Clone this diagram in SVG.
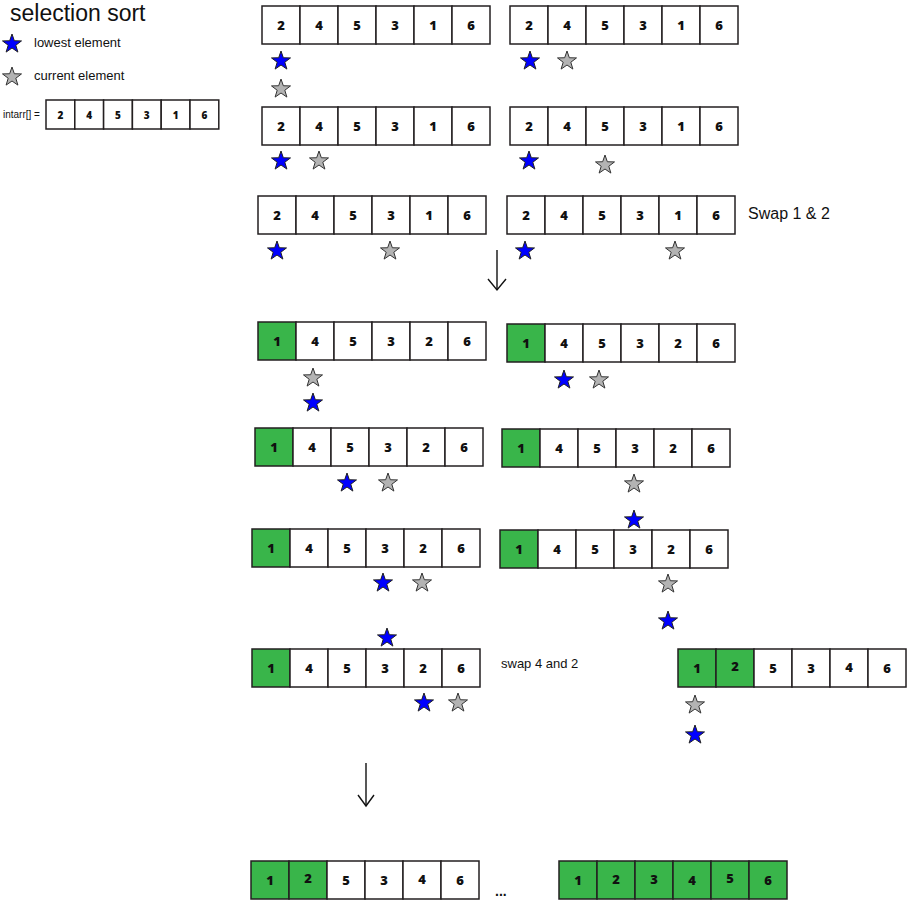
<svg xmlns="http://www.w3.org/2000/svg" width="907" height="902" viewBox="0 0 907 902">
<style>
.c{fill:#fff;stroke:#231f20;stroke-width:1.5}
.g{fill:#39b54a;stroke:#231f20;stroke-width:1.5}
.n{font-family:"Open Sans","Liberation Sans",sans-serif;font-weight:800;font-size:13px;text-anchor:middle;fill:#111}
.sn{font-family:"Open Sans","Liberation Sans",sans-serif;font-weight:800;font-size:10px;text-anchor:middle;fill:#111}
.lbl{font-family:"Liberation Sans",sans-serif;fill:#111}
.ar{fill:none;stroke:#111;stroke-width:1.4}
</style>
<defs>
<path id="star" d="M0,-10 L2.35,-3.24 L9.51,-3.09 L3.8,1.24 L5.88,8.09 L0,4 L-5.88,8.09 L-3.8,1.24 L-9.51,-3.09 L-2.35,-3.24 Z"/>
</defs>
<g id="legend">
<text class="lbl" x="10" y="21" font-size="23">selection sort</text>
<use href="#star" x="12" y="44" fill="#0000ff" stroke="#222" stroke-width="1"/>
<text class="lbl" x="34" y="47" font-size="13">lowest element</text>
<use href="#star" x="12" y="77" fill="#b3b3b3" stroke="#333" stroke-width="1"/>
<text class="lbl" x="34" y="80" font-size="13">current element</text>
<text class="lbl" x="3" y="118" font-size="10">intarr[] =</text>
<g transform="translate(46,100)">
<rect class="c" x="0" y="0" width="28.8" height="29"/><rect class="c" x="28.8" y="0" width="28.8" height="29"/><rect class="c" x="57.6" y="0" width="28.8" height="29"/><rect class="c" x="86.4" y="0" width="28.8" height="29"/><rect class="c" x="115.2" y="0" width="28.8" height="29"/><rect class="c" x="144" y="0" width="28.8" height="29"/>
<text class="sn" x="14.4" y="18.5">2</text><text class="sn" x="43.2" y="18.5">4</text><text class="sn" x="72" y="18.5">5</text><text class="sn" x="100.8" y="18.5">3</text><text class="sn" x="129.6" y="18.5">1</text><text class="sn" x="158.4" y="18.5">6</text>
</g>
</g>

<g id="r1a" transform="translate(262,6)">
<rect class="c" x="0" y="0" width="38" height="38"/><rect class="c" x="38" y="0" width="38" height="38"/><rect class="c" x="76" y="0" width="38" height="38"/><rect class="c" x="114" y="0" width="38" height="38"/><rect class="c" x="152" y="0" width="38" height="38"/><rect class="c" x="190" y="0" width="38" height="38"/>
<text class="n" x="19" y="24">2</text><text class="n" x="57" y="24">4</text><text class="n" x="95" y="24">5</text><text class="n" x="133" y="24">3</text><text class="n" x="171" y="24">1</text><text class="n" x="209" y="24">6</text>
</g>
<g id="r1b" transform="translate(510,6)">
<rect class="c" x="0" y="0" width="38" height="38"/><rect class="c" x="38" y="0" width="38" height="38"/><rect class="c" x="76" y="0" width="38" height="38"/><rect class="c" x="114" y="0" width="38" height="38"/><rect class="c" x="152" y="0" width="38" height="38"/><rect class="c" x="190" y="0" width="38" height="38"/>
<text class="n" x="19" y="24">2</text><text class="n" x="57" y="24">4</text><text class="n" x="95" y="24">5</text><text class="n" x="133" y="24">3</text><text class="n" x="171" y="24">1</text><text class="n" x="209" y="24">6</text>
</g>
<g id="r2a" transform="translate(262,107)">
<rect class="c" x="0" y="0" width="38" height="38"/><rect class="c" x="38" y="0" width="38" height="38"/><rect class="c" x="76" y="0" width="38" height="38"/><rect class="c" x="114" y="0" width="38" height="38"/><rect class="c" x="152" y="0" width="38" height="38"/><rect class="c" x="190" y="0" width="38" height="38"/>
<text class="n" x="19" y="24">2</text><text class="n" x="57" y="24">4</text><text class="n" x="95" y="24">5</text><text class="n" x="133" y="24">3</text><text class="n" x="171" y="24">1</text><text class="n" x="209" y="24">6</text>
</g>
<g id="r2b" transform="translate(510,107)">
<rect class="c" x="0" y="0" width="38" height="38"/><rect class="c" x="38" y="0" width="38" height="38"/><rect class="c" x="76" y="0" width="38" height="38"/><rect class="c" x="114" y="0" width="38" height="38"/><rect class="c" x="152" y="0" width="38" height="38"/><rect class="c" x="190" y="0" width="38" height="38"/>
<text class="n" x="19" y="24">2</text><text class="n" x="57" y="24">4</text><text class="n" x="95" y="24">5</text><text class="n" x="133" y="24">3</text><text class="n" x="171" y="24">1</text><text class="n" x="209" y="24">6</text>
</g>
<g id="r3a" transform="translate(258,196)">
<rect class="c" x="0" y="0" width="38" height="38"/><rect class="c" x="38" y="0" width="38" height="38"/><rect class="c" x="76" y="0" width="38" height="38"/><rect class="c" x="114" y="0" width="38" height="38"/><rect class="c" x="152" y="0" width="38" height="38"/><rect class="c" x="190" y="0" width="38" height="38"/>
<text class="n" x="19" y="24">2</text><text class="n" x="57" y="24">4</text><text class="n" x="95" y="24">5</text><text class="n" x="133" y="24">3</text><text class="n" x="171" y="24">1</text><text class="n" x="209" y="24">6</text>
</g>
<g id="r3b" transform="translate(507,196)">
<rect class="c" x="0" y="0" width="38" height="38"/><rect class="c" x="38" y="0" width="38" height="38"/><rect class="c" x="76" y="0" width="38" height="38"/><rect class="c" x="114" y="0" width="38" height="38"/><rect class="c" x="152" y="0" width="38" height="38"/><rect class="c" x="190" y="0" width="38" height="38"/>
<text class="n" x="19" y="24">2</text><text class="n" x="57" y="24">4</text><text class="n" x="95" y="24">5</text><text class="n" x="133" y="24">3</text><text class="n" x="171" y="24">1</text><text class="n" x="209" y="24">6</text>
</g>
<text class="lbl" x="748" y="219" font-size="16">Swap 1 &amp; 2</text>

<g id="r4a" transform="translate(258,322)">
<rect class="g" x="0" y="0" width="38" height="38"/><rect class="c" x="38" y="0" width="38" height="38"/><rect class="c" x="76" y="0" width="38" height="38"/><rect class="c" x="114" y="0" width="38" height="38"/><rect class="c" x="152" y="0" width="38" height="38"/><rect class="c" x="190" y="0" width="38" height="38"/>
<text class="n" x="19" y="24">1</text><text class="n" x="57" y="24">4</text><text class="n" x="95" y="24">5</text><text class="n" x="133" y="24">3</text><text class="n" x="171" y="24">2</text><text class="n" x="209" y="24">6</text>
</g>
<g id="r4b" transform="translate(507,324)">
<rect class="g" x="0" y="0" width="38" height="38"/><rect class="c" x="38" y="0" width="38" height="38"/><rect class="c" x="76" y="0" width="38" height="38"/><rect class="c" x="114" y="0" width="38" height="38"/><rect class="c" x="152" y="0" width="38" height="38"/><rect class="c" x="190" y="0" width="38" height="38"/>
<text class="n" x="19" y="24">1</text><text class="n" x="57" y="24">4</text><text class="n" x="95" y="24">5</text><text class="n" x="133" y="24">3</text><text class="n" x="171" y="24">2</text><text class="n" x="209" y="24">6</text>
</g>
<g id="r5a" transform="translate(255,428)">
<rect class="g" x="0" y="0" width="38" height="38"/><rect class="c" x="38" y="0" width="38" height="38"/><rect class="c" x="76" y="0" width="38" height="38"/><rect class="c" x="114" y="0" width="38" height="38"/><rect class="c" x="152" y="0" width="38" height="38"/><rect class="c" x="190" y="0" width="38" height="38"/>
<text class="n" x="19" y="24">1</text><text class="n" x="57" y="24">4</text><text class="n" x="95" y="24">5</text><text class="n" x="133" y="24">3</text><text class="n" x="171" y="24">2</text><text class="n" x="209" y="24">6</text>
</g>
<g id="r5b" transform="translate(502,429)">
<rect class="g" x="0" y="0" width="38" height="38"/><rect class="c" x="38" y="0" width="38" height="38"/><rect class="c" x="76" y="0" width="38" height="38"/><rect class="c" x="114" y="0" width="38" height="38"/><rect class="c" x="152" y="0" width="38" height="38"/><rect class="c" x="190" y="0" width="38" height="38"/>
<text class="n" x="19" y="24">1</text><text class="n" x="57" y="24">4</text><text class="n" x="95" y="24">5</text><text class="n" x="133" y="24">3</text><text class="n" x="171" y="24">2</text><text class="n" x="209" y="24">6</text>
</g>
<g id="r6a" transform="translate(252,529)">
<rect class="g" x="0" y="0" width="38" height="38"/><rect class="c" x="38" y="0" width="38" height="38"/><rect class="c" x="76" y="0" width="38" height="38"/><rect class="c" x="114" y="0" width="38" height="38"/><rect class="c" x="152" y="0" width="38" height="38"/><rect class="c" x="190" y="0" width="38" height="38"/>
<text class="n" x="19" y="24">1</text><text class="n" x="57" y="24">4</text><text class="n" x="95" y="24">5</text><text class="n" x="133" y="24">3</text><text class="n" x="171" y="24">2</text><text class="n" x="209" y="24">6</text>
</g>
<g id="r6b" transform="translate(500,530)">
<rect class="g" x="0" y="0" width="38" height="38"/><rect class="c" x="38" y="0" width="38" height="38"/><rect class="c" x="76" y="0" width="38" height="38"/><rect class="c" x="114" y="0" width="38" height="38"/><rect class="c" x="152" y="0" width="38" height="38"/><rect class="c" x="190" y="0" width="38" height="38"/>
<text class="n" x="19" y="24">1</text><text class="n" x="57" y="24">4</text><text class="n" x="95" y="24">5</text><text class="n" x="133" y="24">3</text><text class="n" x="171" y="24">2</text><text class="n" x="209" y="24">6</text>
</g>
<g id="r7a" transform="translate(252,649)">
<rect class="g" x="0" y="0" width="38" height="38"/><rect class="c" x="38" y="0" width="38" height="38"/><rect class="c" x="76" y="0" width="38" height="38"/><rect class="c" x="114" y="0" width="38" height="38"/><rect class="c" x="152" y="0" width="38" height="38"/><rect class="c" x="190" y="0" width="38" height="38"/>
<text class="n" x="19" y="24">1</text><text class="n" x="57" y="24">4</text><text class="n" x="95" y="24">5</text><text class="n" x="133" y="24">3</text><text class="n" x="171" y="24">2</text><text class="n" x="209" y="24">6</text>
</g>
<text class="lbl" x="501" y="668" font-size="13">swap 4 and 2</text>
<g id="r7b" transform="translate(678,649)">
<rect class="g" x="0" y="0" width="38" height="38"/><rect class="g" x="38" y="0" width="38" height="38"/><rect class="c" x="76" y="0" width="38" height="38"/><rect class="c" x="114" y="0" width="38" height="38"/><rect class="c" x="152" y="0" width="38" height="38"/><rect class="c" x="190" y="0" width="38" height="38"/>
<text class="n" x="19" y="24">1</text><text class="n" x="57" y="22">2</text><text class="n" x="95" y="24">5</text><text class="n" x="133" y="24">3</text><text class="n" x="171" y="23">4</text><text class="n" x="209" y="24">6</text>
</g>
<g id="r8a" transform="translate(251,861)">
<rect class="g" x="0" y="0" width="38" height="38"/><rect class="g" x="38" y="0" width="38" height="38"/><rect class="c" x="76" y="0" width="38" height="38"/><rect class="c" x="114" y="0" width="38" height="38"/><rect class="c" x="152" y="0" width="38" height="38"/><rect class="c" x="190" y="0" width="38" height="38"/>
<text class="n" x="19" y="24">1</text><text class="n" x="57" y="22">2</text><text class="n" x="95" y="24">5</text><text class="n" x="133" y="24">3</text><text class="n" x="171" y="23">4</text><text class="n" x="209" y="24">6</text>
</g>
<text class="lbl" x="495" y="896" font-size="14" font-weight="bold">...</text>
<g id="r8b" transform="translate(559,861)">
<rect class="g" x="0" y="0" width="38" height="38"/><rect class="g" x="38" y="0" width="38" height="38"/><rect class="g" x="76" y="0" width="38" height="38"/><rect class="g" x="114" y="0" width="38" height="38"/><rect class="g" x="152" y="0" width="38" height="38"/><rect class="g" x="190" y="0" width="38" height="38"/>
<text class="n" x="19" y="24">1</text><text class="n" x="57" y="23">2</text><text class="n" x="95" y="23">3</text><text class="n" x="133" y="24">4</text><text class="n" x="171" y="22">5</text><text class="n" x="209" y="24">6</text>
</g>

<g id="stars" stroke-width="1">
<g fill="#0000ff" stroke="#222">
<use href="#star" x="281" y="61"/><use href="#star" x="530" y="61"/>
<use href="#star" x="281" y="161"/><use href="#star" x="529" y="161"/>
<use href="#star" x="277" y="251"/><use href="#star" x="525" y="251"/>
<use href="#star" x="313" y="403"/><use href="#star" x="564" y="380"/>
<use href="#star" x="347" y="483"/><use href="#star" x="634" y="520"/>
<use href="#star" x="383" y="583"/><use href="#star" x="668" y="621"/>
<use href="#star" x="387" y="638"/><use href="#star" x="424" y="703"/>
<use href="#star" x="695" y="735"/>
</g>
<g fill="#b3b3b3" stroke="#333">
<use href="#star" x="281" y="89"/><use href="#star" x="567" y="61"/>
<use href="#star" x="319" y="161"/><use href="#star" x="605" y="165"/>
<use href="#star" x="390" y="251"/><use href="#star" x="675" y="251"/>
<use href="#star" x="313" y="378"/><use href="#star" x="599" y="380"/>
<use href="#star" x="388" y="483"/><use href="#star" x="634" y="484"/>
<use href="#star" x="422" y="583"/><use href="#star" x="668" y="584"/>
<use href="#star" x="458" y="703"/><use href="#star" x="695" y="705"/>
</g>
</g>

<g id="connectors">
<line class="ar" x1="497" y1="250" x2="497" y2="290"/>
<polyline class="ar" points="488,279 497,290 506,279"/>
<line class="ar" x1="366" y1="763" x2="366" y2="806"/>
<polyline class="ar" points="358,795 366,806 374,795"/>
</g>
</svg>
